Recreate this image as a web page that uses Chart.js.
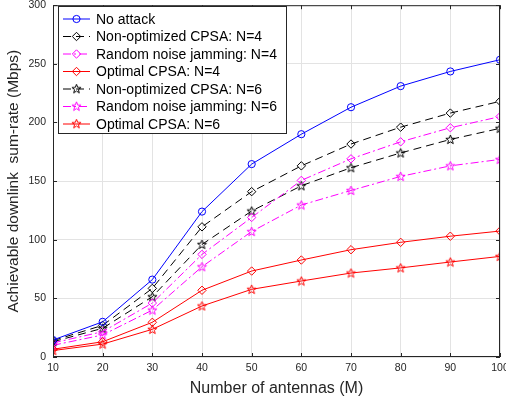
<!DOCTYPE html>
<html>
<head>
<meta charset="utf-8">
<script src="https://cdn.jsdelivr.net/npm/chart.js@4"></script>
<style>
  html, body { margin: 0; padding: 0; background: #fff; }
  #wrap { width: 506px; height: 402px; }
</style>
</head>
<body>
<div id="wrap"><canvas id="chart" width="506" height="402"></canvas></div>
<script>
// antennas (M)
var antennas = [10, 20, 30, 40, 50, 60, 70, 80, 90, 100];
var yTicks = [0, 50, 100, 150, 200, 250, 300];

var noAttack    = [14.5, 30, 66, 124, 164.5, 190, 213, 231, 243.5, 253.5];
var nonOptN4    = [14, 27, 58.5, 111, 141, 163, 181.6, 196, 208, 218];
var randomN4    = [12, 21.6, 46, 87.5, 119, 150.6, 169, 183.5, 195.5, 205];
var optimalN4   = [6.6, 13, 29.6, 56.9, 73.3, 82.7, 91.5, 97.8, 103, 107.4];
var nonOptN6    = [13, 24.5, 51.4, 96, 124.5, 146, 161.4, 174, 185.5, 195];
var randomN6    = [10, 18.8, 40, 77, 107, 129.6, 142, 154, 163, 168.5];
var optimalN6   = [5.5, 11, 23.6, 43.5, 57.7, 64.8, 71.6, 76, 81, 85.8];

// petite étoile à 5 branches façon matlab
function pentagram(color) {
  var c = document.createElement('canvas');
  c.width = 11; c.height = 11;
  var g = c.getContext('2d');
  g.strokeStyle = color;
  g.lineWidth = 1;
  g.beginPath();
  for (var i = 0; i < 10; i++) {
    var r = (i % 2 === 0) ? 4.8 : 2.0;
    var a = -Math.PI / 2 + i * Math.PI / 5;
    var px = 5.5 + r * Math.cos(a), py = 5.8 + r * Math.sin(a);
    if (i === 0) g.moveTo(px, py); else g.lineTo(px, py);
  }
  g.closePath();
  g.stroke();
  return c;
}

function pts(arr) {
  return arr.map(function (v, i) { return { x: antennas[i], y: v }; });
}

function serie(label, data, color, marker, dash) {
  return {
    label: label,
    data: pts(data),
    borderColor: color,
    backgroundColor: 'rgba(0,0,0,0)',
    borderWidth: 1,
    borderDash: dash,
    pointStyle: marker === 'star' ? pentagram(color) : marker,
    pointRadius: marker === 'circle' ? 3.6 : 4.2,
    pointBorderColor: color,
    pointBackgroundColor: 'rgba(0,0,0,0)',
    pointBorderWidth: 1,
    tension: 0
  };
}

var dashed = [8, 5];
var dashDot = [8, 3, 2, 3];

var datasets = [
  serie('No attack', noAttack, '#0000ff', 'circle', []),
  serie('Non-optimized CPSA: N=4', nonOptN4, '#000000', 'rectRot', dashed),
  serie('Random noise jamming: N=4', randomN4, '#ff00ff', 'rectRot', dashDot),
  serie('Optimal CPSA: N=4', optimalN4, '#ff0000', 'rectRot', []),
  serie('Non-optimized CPSA: N=6', nonOptN6, '#000000', 'star', dashed),
  serie('Random noise jamming: N=6', randomN6, '#ff00ff', 'star', dashDot),
  serie('Optimal CPSA: N=6', optimalN6, '#ff0000', 'star', [])
];

// cadre + petites graduations vers l'intérieur, puis la légende
var boxAndLegend = {
  id: 'boxAndLegend',
  afterDatasetsDraw: function (chart) {
    var ctx = chart.ctx, a = chart.chartArea;
    var xs = chart.scales.x, ys = chart.scales.y;
    ctx.save();
    ctx.strokeStyle = '#262626';
    ctx.lineWidth = 1;
    ctx.setLineDash([]);
    ctx.strokeRect(a.left + 0.5, a.top + 0.5, a.right - a.left - 1, a.bottom - a.top - 1);
    ctx.beginPath();
    antennas.forEach(function (v) {
      var px = Math.round(xs.getPixelForValue(v)) + 0.5;
      ctx.moveTo(px, a.bottom); ctx.lineTo(px, a.bottom - 4);
      ctx.moveTo(px, a.top); ctx.lineTo(px, a.top + 4);
    });
    yTicks.forEach(function (v) {
      var py = Math.round(ys.getPixelForValue(v)) + 0.5;
      ctx.moveTo(a.left, py); ctx.lineTo(a.left + 4, py);
      ctx.moveTo(a.right, py); ctx.lineTo(a.right - 4, py);
    });
    ctx.stroke();

    // légende
    var lx = 58, ly = 6, lw = 228, lh = 127;
    ctx.fillStyle = '#fff';
    ctx.fillRect(lx, ly, lw, lh);
    ctx.strokeStyle = '#262626';
    ctx.strokeRect(lx + 0.5, ly + 0.5, lw, lh);
    ctx.font = '14px "Liberation Sans", Arial, sans-serif';
    ctx.textBaseline = 'middle';
    chart.data.datasets.forEach(function (ds, i) {
      var y = 19 + i * 17.5;
      ctx.strokeStyle = ds.borderColor;
      ctx.setLineDash(ds.borderDash);
      ctx.beginPath();
      ctx.moveTo(63, y); ctx.lineTo(90, y);
      ctx.stroke();
      ctx.setLineDash([]);
      var m = ds.pointStyle;
      if (typeof m === 'string') {
        ctx.fillStyle = 'rgba(0,0,0,0)';
        Chart.helpers.drawPoint(ctx, { pointStyle: m, radius: ds.pointRadius, borderWidth: 1 }, 76.5, y);
      } else {
        ctx.drawImage(m, 76.5 - 5.5, y - 5.8);
      }
      ctx.fillStyle = '#000';
      ctx.fillText(ds.label, 96, y + 1);
    });
    ctx.restore();
  }
};

var font = '"Liberation Sans", Arial';
var ctx = document.getElementById('chart').getContext('2d');
var myChart = new Chart(ctx, {
  type: 'line',
  data: { datasets: datasets },
  options: {
    responsive: false,
    animation: false,
    layout: { padding: { left: 0, right: 6, top: 5, bottom: 0 } },
    plugins: { legend: { display: false }, tooltip: { enabled: false } },
    scales: {
      x: {
        type: 'linear',
        min: 10, max: 100,
        afterBuildTicks: function (s) { s.ticks = antennas.map(function (v) { return { value: v }; }); },
        afterFit: function (s) { s.height = 45; s.paddingRight = 0; s.paddingLeft = 0; },
        grid: { color: '#e3e3e3', drawTicks: false },
        border: { display: false },
        ticks: { color: '#262626', padding: 5, maxRotation: 0, font: { size: 10.5, family: font } },
        title: { display: true, text: 'Number of antennas (M)', color: '#262626', padding: { top: 1 }, font: { size: 16, family: font } }
      },
      y: {
        min: 0, max: 300,
        afterBuildTicks: function (s) { s.ticks = yTicks.map(function (v) { return { value: v }; }); },
        afterFit: function (s) { s.width = 53; s.paddingTop = 0; s.paddingBottom = 0; },
        grid: { color: '#e3e3e3', drawTicks: false },
        border: { display: false },
        ticks: { color: '#262626', padding: 7, font: { size: 10.5, family: font } },
        title: { display: true, text: 'Achievable downlink  sum-rate (Mbps)', color: '#262626', padding: { bottom: 4 }, font: { size: 15.5, family: font } }
      }
    }
  },
  plugins: [boxAndLegend]
});
</script>
</body>
</html>
